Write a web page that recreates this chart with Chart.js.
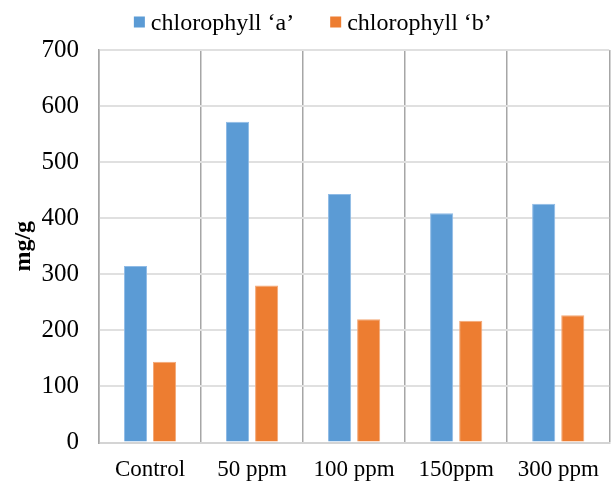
<!DOCTYPE html>
<html>
<head>
<meta charset="utf-8">
<script src="https://cdn.jsdelivr.net/npm/chart.js@4/dist/chart.umd.min.js"></script>
<style>
  html, body { margin: 0; padding: 0; background: #fff; }
  #wrap { width: 613px; height: 481px; position: relative; }
</style>
</head>
<body>
<div id="wrap"><canvas id="c" width="613" height="481"></canvas></div>
<script>
const categories = ['Control', '50 ppm', '100 ppm', '150ppm', '300 ppm'];
const chlorophyllA = [315, 572, 443, 409, 426];
const chlorophyllB = [144, 280, 220, 217, 227];
const seriesNames = ['chlorophyll \u2018a\u2019', 'chlorophyll \u2018b\u2019'];
const yTicks = [0, 100, 200, 300, 400, 500, 600, 700];
const yTitle = 'mg/g';

const FONT = '"Liberation Serif", "Times New Roman", serif';

const customLegend = {
  id: 'customLegend',
  afterDraw(chart) {
    const ctx = chart.ctx;
    const centers = [214, 411];
    ctx.save();
    ctx.font = '24px ' + FONT;
    ctx.textBaseline = 'alphabetic';
    ctx.textAlign = 'left';
    chart.data.datasets.forEach((ds, i) => {
      const tw = ctx.measureText(ds.label).width;
      const w = 11 + 6 + tw;
      const x0 = centers[i] - w / 2;
      ctx.fillStyle = ds.backgroundColor;
      ctx.fillRect(x0, 16.5, 11, 11);
      ctx.fillStyle = '#000';
      ctx.fillText(ds.label, x0 + 17, 29.5);
    });
    ctx.restore();
  }
};

new Chart(document.getElementById('c'), {
  type: 'bar',
  data: {
    labels: categories,
    datasets: [
      { label: seriesNames[0], data: chlorophyllA, backgroundColor: '#5B9BD5', borderColor: '#8fbbe6', borderWidth: 1 },
      { label: seriesNames[1], data: chlorophyllB, backgroundColor: '#ED7D31', borderColor: '#f3a877', borderWidth: 1 }
    ]
  },
  options: {
    responsive: false,
    animation: false,
    devicePixelRatio: 1,
    layout: { padding: { top: 50, right: 2, left: 0, bottom: 0 } },
    plugins: {
      legend: { display: false },
      tooltip: { enabled: false }
    },
    datasets: { bar: { categoryPercentage: 0.57, barPercentage: 0.795 } },
    scales: {
      x: {
        offset: true,
        grid: { offset: true, color: '#a6a6a6', lineWidth: 1.5, drawTicks: false },
        border: { display: true, color: '#d4d4d4', width: 2 },
        ticks: { color: '#000', font: { family: FONT, size: 23 }, padding: 14, maxRotation: 0, autoSkip: false },
        afterFit(scale) { scale.height = 38.5; }
      },
      y: {
        min: 0, max: 700,
        afterBuildTicks(scale) { scale.ticks = yTicks.map(v => ({ value: v })); },
        grid: { color: '#e0e0e0', lineWidth: 2, drawTicks: false },
        border: { display: true, color: '#a6a6a6', width: 1.5 },
        ticks: { color: '#000', font: { family: FONT, size: 25 }, padding: 20 },
        title: { display: true, text: yTitle, color: '#000', font: { family: FONT, size: 24, weight: 'bold' }, padding: { top: 9, bottom: 0 } },
        afterFit(scale) { scale.width = 99; }
      }
    }
  },
  plugins: [customLegend]
});
</script>
</body>
</html>
